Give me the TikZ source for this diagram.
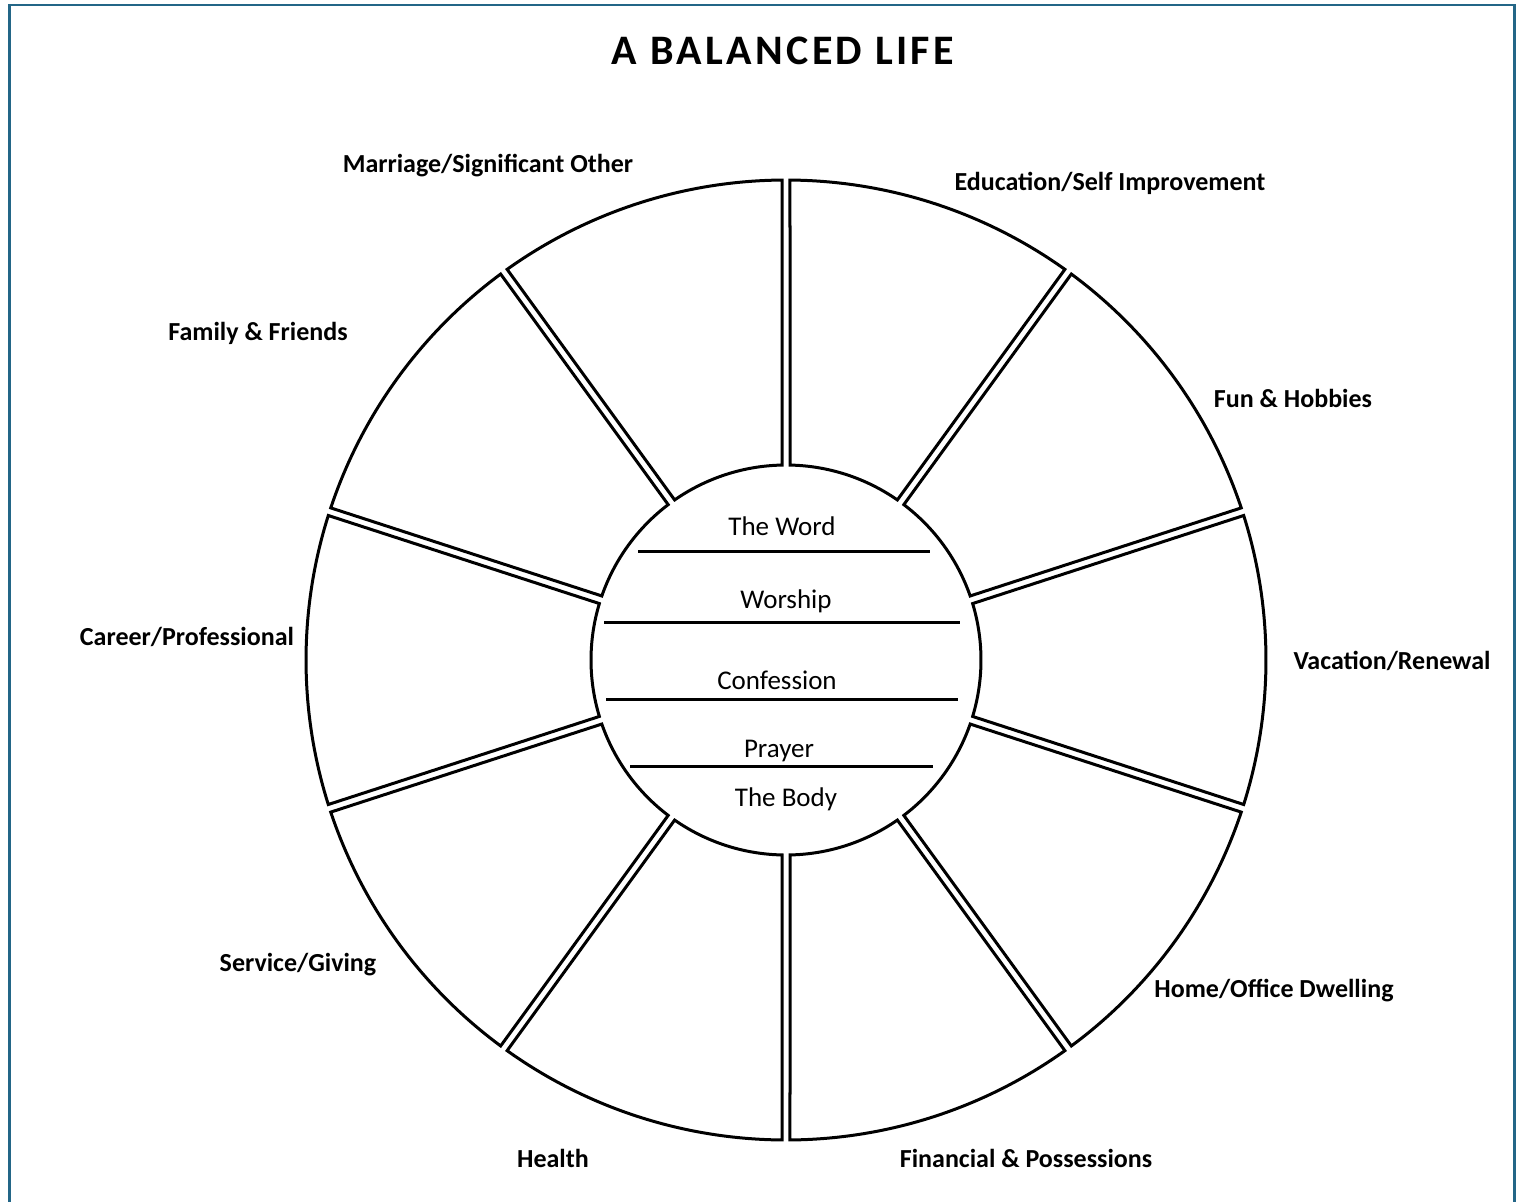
\documentclass[tikz,border=0pt]{standalone}
\usepackage{fontspec}
\setmainfont{Carlito}
\newfontfamily\spacedfont[LetterSpace=8]{Carlito}
\definecolor{framecol}{RGB}{35,102,135}
\begin{document}
\begin{tikzpicture}[x=1pt,y=1pt,
  sector/.style={draw=black,line width=3pt,fill=white,line join=miter},
  area/.style={font=\bfseries\fontsize{26}{31}\selectfont,anchor=base,inner sep=0pt},
  core/.style={font=\fontsize{27}{32}\selectfont,anchor=base,inner sep=0pt},
  heading/.style={font=\spacedfont\bfseries\fontsize{42}{50}\selectfont,anchor=base,inner sep=0pt},
  rule/.style={line width=3pt},
  frame/.style={draw=framecol,line width=2.5pt}]
\useasboundingbox (0,0) rectangle (1519,-1202);
% page frame (open at the bottom edge of the page)
\draw[frame] (9.5,-1215) -- (9.5,-5) -- (1514.5,-5) -- (1514.5,-1215);

\node[heading] (title) at (783,-64) {A BALANCED LIFE};

% ten separate ring sectors, each inset by 4pt from its radial boundaries
\begin{scope}[shift={(786,-660)}]
\foreach \a in {90,54,18,-18,-54,-90,-126,-162,162,126}{
  \draw[sector] ({\a+1.175}:195pt) -- ({\a+0.477}:480pt)
    arc[start angle={\a+0.477}, end angle={\a+35.523}, radius=480pt]
    -- ({\a+34.825}:195pt)
    arc[start angle={\a+34.825}, end angle={\a+1.175}, radius=195pt] -- cycle;
}
\end{scope}

% labels round the wheel
\node[area] (marriage) at (488,-172) {Marriage/Significant\ Other};
\node[area] (education) at (1110,-190) {Education/Self Improvement};
\node[area] (family) at (258,-340) {Family \& Friends};
\node[area] (fun) at (1293,-407) {Fun \& Hobbies};
\node[area] (career) at (187,-645) {Career/Professional};
\node[area] (vacation) at (1392,-669) {Vacation/Renewal};
\node[area] (service) at (298,-971) {Service/Giving};
\node[area] (home) at (1274,-997) {Home/Office Dwelling};
\node[area] (health) at (553,-1167) {Health};
\node[area] (financial) at (1026,-1167) {Financial \& Possessions};

% the hub
\node[core] (word) at (782,-535) {The Word};
\draw[rule] (638,-551) -- (930,-551);
\node[core] (worship) at (786,-608) {Worship};
\draw[rule] (604,-622) -- (960,-622);
\node[core] (confession) at (777,-689) {Confession};
\draw[rule] (606,-699) -- (958,-699);
\node[core] (prayer) at (779,-757) {Prayer};
\draw[rule] (630,-766) -- (933,-766);
\node[core] (body) at (786,-806) {The Body};
\end{tikzpicture}
\end{document}
